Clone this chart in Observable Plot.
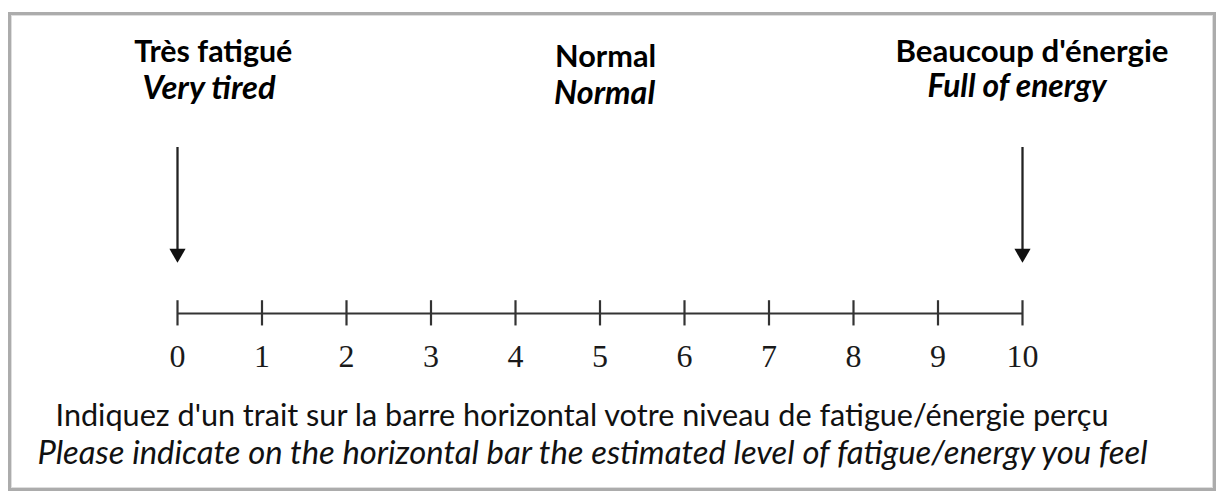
<!DOCTYPE html>
<html><head><meta charset="utf-8">
<script src="https://cdn.jsdelivr.net/npm/d3@7"></script>
<script src="https://cdn.jsdelivr.net/npm/@observablehq/plot@0.6"></script>
<style>
html,body{margin:0;padding:0;background:#fff;}
#wrap{position:relative;width:1220px;height:495px;overflow:hidden;}
#wrap svg{position:absolute;left:0;top:0;}
#box{position:absolute;left:8px;top:12px;width:1202px;height:473px;border:3px solid #acacac;box-shadow:inset 0 0 0 1px #dedede;pointer-events:none;}
</style></head><body><div id="wrap"><div id="box"></div></div>
<script>
// ---- data ----
const scaleValues = [0, 1, 2, 3, 4, 5, 6, 7, 8, 9, 10];
const anchorValues = [0, 5, 10];
const labelsFr = ["Très fatigué", "Normal", "Beaucoup d'énergie"];
const labelsEn = ["Very tired", "Normal", "Full of energy"];
const arrowValues = [0, 10];
const instructionFr = "Indiquez d'un trait sur la barre horizontal votre niveau de fatigue/énergie perçu";
const instructionEn = "Please indicate on the horizontal bar the estimated level of fatigue/energy you feel";

// ---- layout / style (pixels) ----
const frDx = [35.8, 5.6, 9.5], frDy = [-85.2, -80.5, -85.5];
const enDx = [31.6, 4.6, -5.5], enDy = [-48.7, -44, -50.5];
const widthTargets = new Map([
  ["Très fatigué", 158], ["Normal", 101], ["Beaucoup d'énergie", 273],
  ["Very tired", 133], ["Full of energy", 179],
  [instructionFr, 1053], [instructionEn, 1110]
]);
const ink = "#111";
const sans = "Lato, 'Open Sans', sans-serif";

const chart = Plot.plot({
  width: 1220, height: 495,
  marginTop: 147, marginBottom: 182, marginLeft: 177, marginRight: 198,
  x: {domain: [0, 10], axis: null},
  y: {domain: [0, 1], axis: null},
  style: {fontFamily: "'Liberation Serif', 'Times New Roman', serif", background: "transparent", color: ink},
  marks: [
    // horizontal bar
    Plot.ruleY([0], {x1: scaleValues[0], x2: scaleValues[scaleValues.length - 1], stroke: "#333", strokeWidth: 2.2}),
    // tick marks
    Plot.ruleX(scaleValues, {x: d => d, y1: -0.075, y2: 0.077, stroke: "#333", strokeWidth: 2.2}),
    // tick labels
    Plot.axisX(scaleValues, {anchor: "bottom", tickSize: 0, tickPadding: 31, fontSize: 32, fill: "#1a1a1a", fontFamily: "'Liberation Serif', serif"}),
    // arrows
    Plot.ruleX(arrowValues, {x: d => d, y1: 1, y2: 0.34, stroke: "#222", strokeWidth: 2.3}),
    Plot.dot(arrowValues, {x: d => d, y: 0.307, dy: -9, symbol: "triangle", rotate: 180, r: 6, fill: "#111", stroke: "none"}),
    // headers
    ...anchorValues.map((v, i) => Plot.text([v], {x: d => d, y: 1, text: [labelsFr[i]], dx: frDx[i], dy: frDy[i], lineAnchor: "bottom", textAnchor: "middle", fontFamily: sans, fontWeight: "bold", fontSize: 24, fill: "#000"})),
    ...anchorValues.map((v, i) => Plot.text([v], {x: d => d, y: 1, text: [labelsEn[i]], dx: enDx[i], dy: enDy[i], lineAnchor: "bottom", textAnchor: "middle", fontFamily: sans, fontWeight: "bold", fontStyle: "italic", fontSize: 24, fill: "#000"})),
    // instructions
    Plot.text([instructionFr], {frameAnchor: "bottom", text: d => d, dx: -18, dy: 112.3, lineAnchor: "bottom", textAnchor: "middle", fontFamily: sans, fontSize: 25, fill: ink}),
    Plot.text([instructionEn], {frameAnchor: "bottom", text: d => d, dx: -7.5, dy: 150.3, lineAnchor: "bottom", textAnchor: "middle", fontFamily: sans, fontStyle: "italic", fontSize: 25, fill: ink})
  ]
});
document.getElementById("wrap").prepend(chart);

function fit() {
  chart.querySelectorAll("text").forEach(t => {
    const target = widthTargets.get(t.textContent);
    if (!target) return;
    const w = t.getComputedTextLength();
    if (!w) return;
    const fs = parseFloat(getComputedStyle(t).fontSize);
    t.style.fontSize = (fs * target / w) + "px";
  });
}
if (document.fonts && document.fonts.ready) document.fonts.ready.then(fit); else fit();
fit();
</script></body></html>
